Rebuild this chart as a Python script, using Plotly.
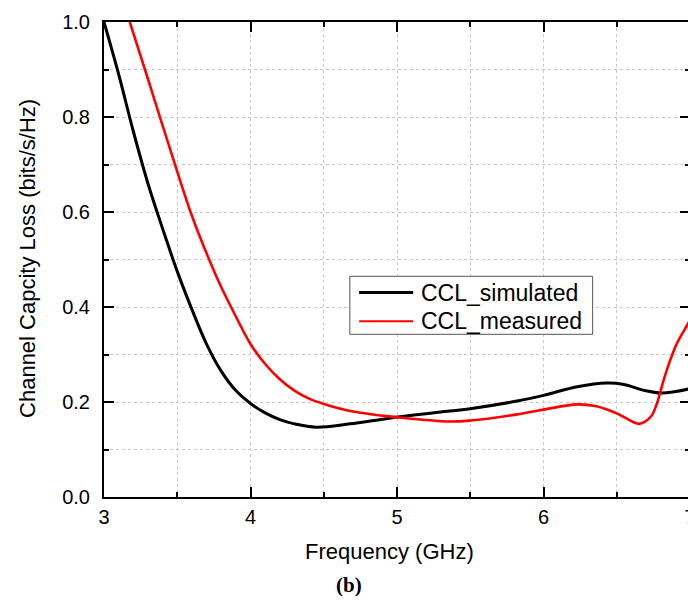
import plotly.graph_objects as go

# Simulated channel capacity loss (black)
sim_freq = [3.0, 3.1, 3.2, 3.3, 3.4, 3.5, 3.6, 3.7, 3.8, 3.9, 4.0, 4.1, 4.2, 4.3, 4.45,
            4.68, 4.95, 5.36, 5.5, 5.82, 6.0, 6.23, 6.43, 6.55, 6.68, 6.81, 7.0]
sim_ccl = [1.0, 0.89, 0.77, 0.66, 0.565, 0.475, 0.395, 0.322, 0.265, 0.224, 0.197, 0.177, 0.163, 0.154, 0.147,
           0.154, 0.166, 0.181, 0.186, 0.202, 0.214, 0.232, 0.240, 0.237, 0.225, 0.219, 0.228]

# Measured channel capacity loss (red)
meas_freq = [3.176, 3.3, 3.4, 3.5, 3.6, 3.7, 3.8, 3.9, 4.0, 4.1, 4.2, 4.3, 4.4, 4.5, 4.7, 5.0,
             5.36, 5.5, 5.82, 6.0, 6.23, 6.36, 6.5, 6.58, 6.65, 6.73, 6.77, 6.82, 6.86, 6.91, 6.96, 7.0]
meas_ccl = [1.0, 0.88, 0.782, 0.685, 0.592, 0.513, 0.442, 0.38, 0.322, 0.28, 0.248, 0.224, 0.207, 0.196, 0.180, 0.168,
            0.159, 0.161, 0.174, 0.184, 0.195, 0.191, 0.176, 0.163, 0.154, 0.168, 0.193, 0.246, 0.284, 0.323, 0.351, 0.372]

series_names = ["CCL_simulated", "CCL_measured"]
x_ticks = [3, 4, 5, 6, 7]
y_ticks = [0.0, 0.2, 0.4, 0.6, 0.8, 1.0]

FONT = "Liberation Sans, Arial, sans-serif"

# page geometry; the page margin is removed so figure pixels equal page pixels.
# The right frame edge lies just past the 688px window, as in the reference.
PL, PT, PB, PR = 104.3, 21.7, 496.7, 690.0   # plot left / top / bottom / right
W, H = round(PR), 605
left, top = PL, PT
bottom = H - PB
plot_w = W - left
plot_h = H - top - bottom


def px(xp):
    return (xp - PL) / plot_w


def py(yp):
    return (PB - yp) / plot_h


fig = go.Figure()
fig.add_trace(go.Scatter(x=sim_freq, y=sim_ccl, mode="lines", name=series_names[0],
                         line=dict(color="black", width=3, shape="spline", smoothing=1.0)))
fig.add_trace(go.Scatter(x=meas_freq, y=meas_ccl, mode="lines", name=series_names[1],
                         line=dict(color="#ff0000", width=2.6, shape="spline", smoothing=1.0)))

fig.update_layout(
    width=W, height=H, autosize=False,
    margin=dict(l=left, r=0, t=top, b=bottom, pad=0, autoexpand=False),
    paper_bgcolor="white", plot_bgcolor="white",
    font=dict(family=FONT, color="black"),
    showlegend=False,
    xaxis=dict(range=[3, 7], tickvals=x_ticks, ticktext=[str(v) for v in x_ticks],
               ticks="inside", ticklen=10, tickwidth=2, tickcolor="black",
               showline=True, linecolor="black", linewidth=2, mirror="ticks",
               showgrid=False, zeroline=False, ticklabeloverflow="allow", automargin=False,
               tickfont=dict(size=20, family=FONT), ticklabelstandoff=1,
               minor=dict(dtick=0.5, ticks="inside", ticklen=5, tickwidth=2, tickcolor="black",
                          showgrid=True, griddash="dot", gridcolor="#c8c8c8", gridwidth=1)),
    yaxis=dict(range=[0, 1.0], tickvals=y_ticks, ticktext=[f"{v:.1f}" for v in y_ticks],
               ticks="inside", ticklen=10, tickwidth=2, tickcolor="black",
               showline=True, linecolor="black", linewidth=2, mirror="ticks",
               showgrid=False, zeroline=False, automargin=False,
               tickfont=dict(size=20, family=FONT), ticklabelstandoff=8,
               minor=dict(dtick=0.1, ticks="inside", ticklen=5, tickwidth=2, tickcolor="black",
                          showgrid=True, griddash="dot", gridcolor="#c8c8c8", gridwidth=1)),
)

# legend box drawn by hand
fig.add_shape(type="rect", xref="paper", yref="paper",
              x0=px(350), x1=px(592.7), y0=py(334), y1=py(276),
              line=dict(color="#555555", width=1), fillcolor="white", layer="above")
for name, color, width, yp in [(series_names[0], "black", 3, 292.3),
                               (series_names[1], "#ff0000", 2, 321)]:
    fig.add_shape(type="line", xref="paper", yref="paper",
                  x0=px(359.3), x1=px(413.3), y0=py(yp), y1=py(yp),
                  line=dict(color=color, width=width), layer="above")
    fig.add_annotation(text=name, xref="paper", yref="paper", x=px(419), y=py(yp),
                       xanchor="left", yanchor="middle", showarrow=False,
                       font=dict(size=23, family=FONT))

# axis titles and caption
fig.add_annotation(text="Channel Capcity Loss (bits/s/Hz)", xref="paper", yref="paper",
                   x=px(28), y=py(258), textangle=-90, showarrow=False,
                   xanchor="center", yanchor="middle", font=dict(size=22, family=FONT))
fig.add_annotation(text="Frequency (GHz)", xref="paper", yref="paper",
                   x=px(390), y=py(551), showarrow=False, xanchor="center", yanchor="middle",
                   font=dict(size=22, family=FONT))
fig.add_annotation(text="<b>(b)</b>", xref="paper", yref="paper",
                   x=px(349), y=py(585), showarrow=False, xanchor="center", yanchor="middle",
                   font=dict(size=21, family="Liberation Serif, serif"))

fig.write_html("out.html", default_width=f"{W}px", default_height=f"{H}px",
               config={"displayModeBar": False},
               post_script="document.body.style.margin='0';"
                           "document.documentElement.style.overflow='hidden';")
